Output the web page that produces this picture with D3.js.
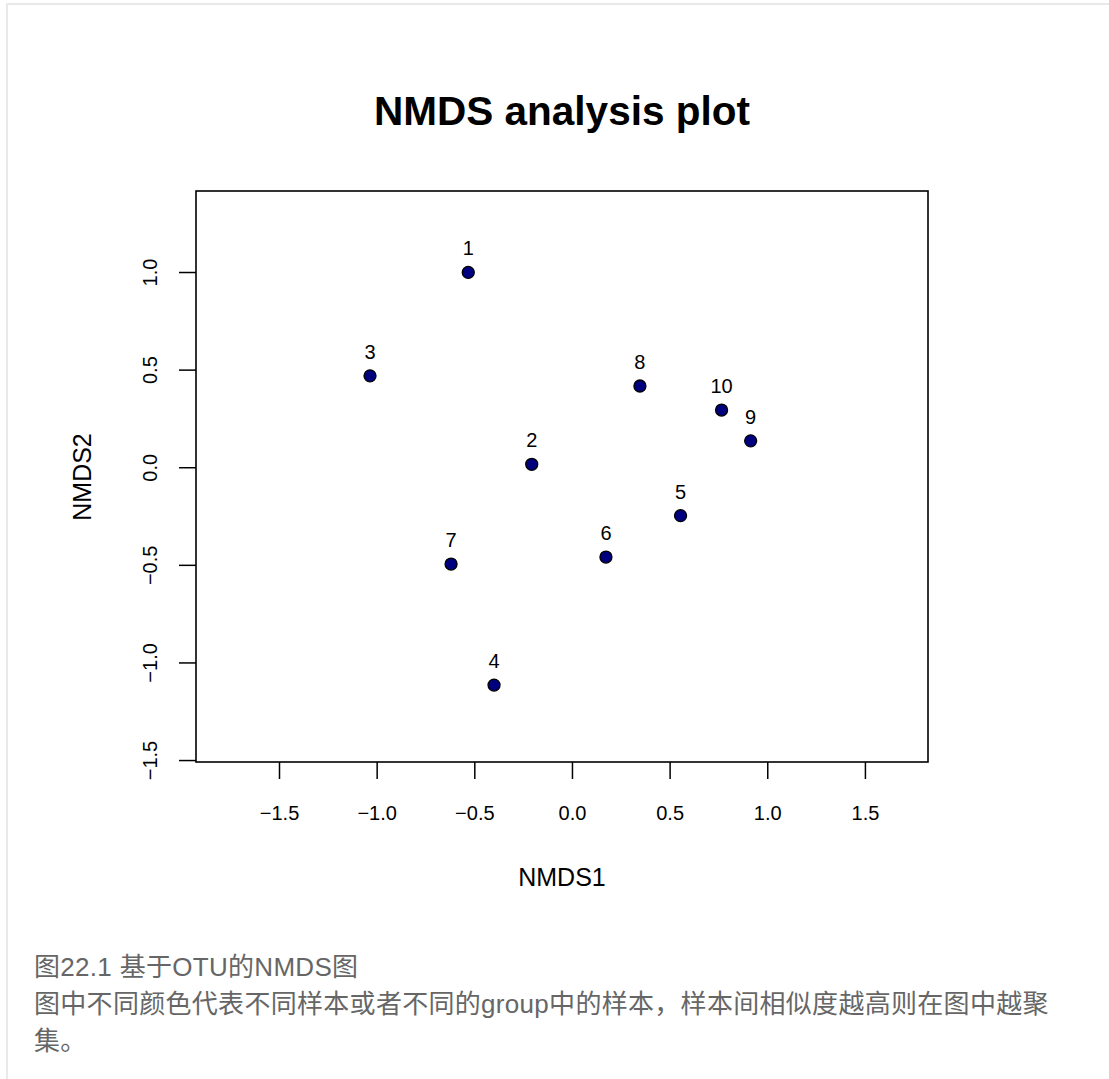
<!DOCTYPE html>
<html>
<head>
<meta charset="utf-8">
<script src="https://cdn.jsdelivr.net/npm/d3@7"></script>
<style>
  html, body { margin: 0; padding: 0; background: #fff; }
  svg { display: block; }
</style>
</head>
<body>
<svg id="chart" width="1109" height="1079"></svg>
<script>
// NMDS ordination scores for the ten samples
const sampleIds = ["1", "2", "3", "4", "5", "6", "7", "8", "9", "10"];
const nmds1 = [-0.531, -0.206, -1.034, -0.399, 0.556, 0.174, -0.619, 0.348, 0.915, 0.766];
const nmds2 = [0.998, 0.015, 0.468, -1.116, -0.248, -0.46, -0.496, 0.416, 0.135, 0.293];

// axis limits and tick values
const xLimits = [-1.925, 1.823];
const yLimits = [-1.51, 1.415];
const xTicks = [-1.5, -1.0, -0.5, 0.0, 0.5, 1.0, 1.5];
const yTicks = [-1.5, -1.0, -0.5, 0.0, 0.5, 1.0];

const titleText = "NMDS analysis plot";
const xLabel = "NMDS1";
const yLabel = "NMDS2";
const captionLines = [
  "图22.1 基于OTU的NMDS图",
  "图中不同颜色代表不同样本或者不同的group中的样本，样本间相似度越高则在图中越聚",
  "集。"
];

const svg = d3.select("#chart");
const font = "'Liberation Sans', Arial, Helvetica, sans-serif";
const fmt = v => d3.format(".1f")(v).replace("-", "\u2212");

// page frame
svg.append("rect")
  .attr("x", 7).attr("y", 4)
  .attr("width", 1300).attr("height", 1300)
  .attr("fill", "none")
  .attr("stroke", "#e9e9e9")
  .attr("stroke-width", 2);

const box = { left: 196, right: 928, top: 191, bottom: 762 };

const x = d3.scaleLinear().domain(xLimits).range([box.left, box.right]);
const y = d3.scaleLinear().domain(yLimits).range([box.bottom, box.top]);

// x axis
const xAxis = svg.append("g")
  .attr("transform", `translate(0,${box.bottom})`)
  .call(d3.axisBottom(x).tickValues(xTicks).tickSize(17).tickPadding(27).tickFormat(fmt));
xAxis.select(".domain").remove();
xAxis.selectAll(".tick line").attr("stroke", "#000").attr("stroke-width", 1.5);
xAxis.selectAll(".tick text")
  .attr("font-family", font).attr("font-size", 20).attr("fill", "#000");

// y axis, labels rotated parallel to the axis
const yAxis = svg.append("g")
  .attr("transform", `translate(${box.left},0)`)
  .call(d3.axisLeft(y).tickValues(yTicks).tickSize(17).tickFormat(fmt));
yAxis.select(".domain").remove();
yAxis.selectAll(".tick line").attr("stroke", "#000").attr("stroke-width", 1.5);
yAxis.selectAll(".tick text")
  .attr("font-family", font).attr("font-size", 20).attr("fill", "#000")
  .attr("x", null).attr("dy", null)
  .attr("text-anchor", "middle")
  .attr("dominant-baseline", "central")
  .attr("transform", "translate(-46,0) rotate(-90)");

// plot frame
svg.append("rect")
  .attr("x", box.left).attr("y", box.top)
  .attr("width", box.right - box.left).attr("height", box.bottom - box.top)
  .attr("fill", "none").attr("stroke", "#000").attr("stroke-width", 1.6);

// sample points
const samples = sampleIds.map((id, i) => ({ id, a: nmds1[i], b: nmds2[i] }));

svg.append("g").selectAll("circle")
  .data(samples).join("circle")
  .attr("cx", d => x(d.a))
  .attr("cy", d => y(d.b))
  .attr("r", 6)
  .attr("fill", "#00007f")
  .attr("stroke", "#000")
  .attr("stroke-width", 1.3);

svg.append("g").selectAll("text")
  .data(samples).join("text")
  .attr("x", d => x(d.a))
  .attr("y", d => y(d.b) - 17)
  .attr("text-anchor", "middle")
  .attr("font-family", font).attr("font-size", 20).attr("fill", "#000")
  .text(d => d.id);

// titles
svg.append("text")
  .attr("x", 562).attr("y", 125)
  .attr("text-anchor", "middle")
  .attr("font-family", font).attr("font-weight", "bold").attr("font-size", 40.5)
  .text(titleText);

svg.append("text")
  .attr("x", 562).attr("y", 886)
  .attr("text-anchor", "middle")
  .attr("font-family", font).attr("font-size", 25)
  .text(xLabel);

svg.append("text")
  .attr("transform", "translate(91,477) rotate(-90)")
  .attr("text-anchor", "middle")
  .attr("font-family", font).attr("font-size", 25)
  .text(yLabel);

// figure caption
svg.append("g").selectAll("text")
  .data(captionLines).join("text")
  .attr("x", 34)
  .attr("y", (d, i) => 976 + i * 37)
  .attr("font-family", "'Liberation Sans', 'Noto Sans CJK SC', sans-serif")
  .attr("font-size", 26)
  .attr("letter-spacing", 0.3)
  .attr("fill", "#666")
  .text(d => d);
</script>
</body>
</html>
